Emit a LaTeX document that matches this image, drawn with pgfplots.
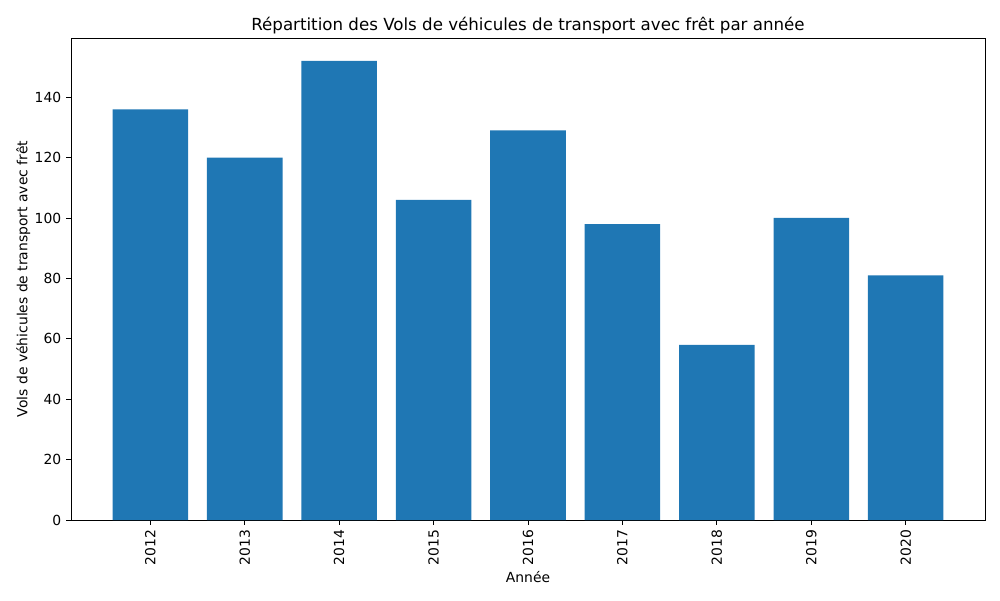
\documentclass[border=0pt]{standalone}
\usepackage{pgfplots}
\pgfplotsset{compat=1.18}
\usepackage{fontspec}
\setmainfont{DejaVu Sans}
\definecolor{barblue}{HTML}{1F77B4}
\begin{document}
\begin{tikzpicture}[x=0.72pt,y=0.72pt]
\path[use as bounding box] (-71,-80) rectangle (929,520);
\begin{axis}[at={(0,0)}, anchor=south west, scale only axis,
  width=658.08pt, height=347.04pt,
  xmin=-0.84, xmax=8.84, ymin=0, ymax=159.6,
  xtick={0,...,8},
  xticklabels={2012,2013,2014,2015,2016,2017,2018,2019,2020},
  x tick label style={rotate=90, anchor=east},
  ytick={0,20,...,140},
  tick pos=left,
  tick align=outside,
  major tick length=3.5pt,
  tick style={black, line width=0.6pt},
  axis line style={line width=0.6pt},
  /pgf/number format/assume math mode=true,
  tick label style={font=\fontsize{10}{12}\selectfont},
  label style={font=\fontsize{10}{12}\selectfont},
  title style={font=\fontsize{12}{14}\selectfont, at={(0.5,1)}, anchor=south, yshift=-6.8pt},
  xlabel={Année},
  xlabel style={yshift=2pt},
  ylabel={Vols de véhicules de transport avec frêt},
  ylabel style={yshift=-3.6pt},
  title={Répartition des Vols de véhicules de transport avec frêt par année},
  ybar, bar width=0.8, bar shift=0pt,
]
\addplot[fill=barblue, draw=none] coordinates {
(0,136) (1,120) (2,152) (3,106) (4,129) (5,98) (6,58) (7,100) (8,81)};
\end{axis}
\end{tikzpicture}
\end{document}
